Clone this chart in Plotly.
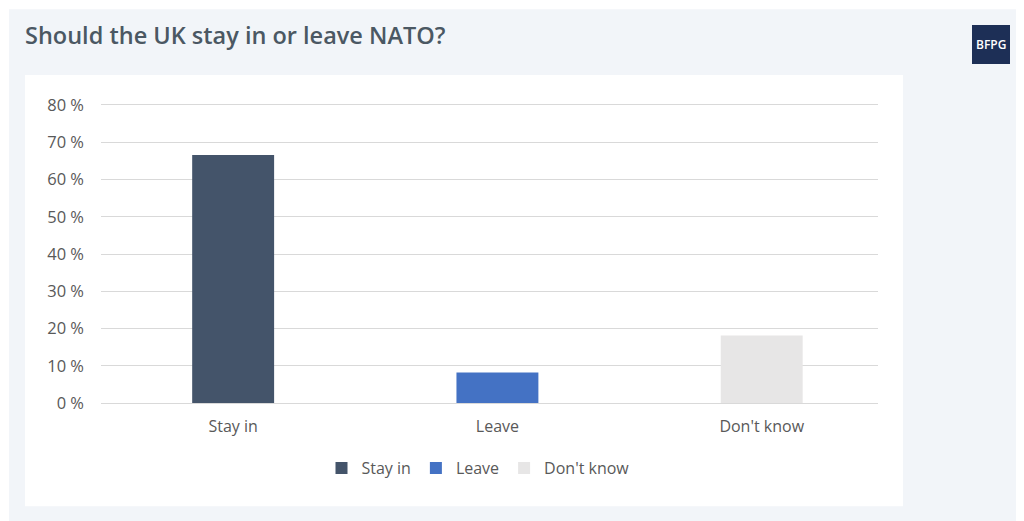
import plotly.graph_objects as go

categories = ["Stay in", "Leave", "Don't know"]
values = [66.6, 8.2, 18.1]
colors = ["#44546a", "#4472c4", "#e7e6e6"]
y_ticks = [0, 10, 20, 30, 40, 50, 60, 70, 80]
y_tick_labels = ["0 %", "10 %", "20 %", "30 %", "40 %", "50 %", "60 %", "70 %", "80 %"]

W, H = 1024, 521
OFF = 8  # page body margin offset
EXT = 0.8
ppu = (403.5 - 105) / 80.0
PL, PR = 101 - OFF, 878 - OFF
PT = 105 - OFF - EXT * ppu
PB = 403.5 - OFF + EXT * ppu

def px(x):
    return (x - OFF - PL) / (PR - PL)

def py(y):
    return (PB - (y - OFF)) / (PB - PT)

fig = go.Figure()
for c, v, col in zip(categories, values, colors):
    fig.add_trace(go.Bar(
        x=[c], y=[v], name=c, width=0.31,
        marker=dict(color=col, line=dict(width=0)),
        hovertemplate="%{x}: %{y} %<extra></extra>",
    ))

fig.update_layout(
    width=W, height=H,
    margin=dict(l=PL, r=W - PR, t=PT, b=H - PB, autoexpand=False),
    paper_bgcolor="white",
    plot_bgcolor="rgba(0,0,0,0)",
    barmode="overlay",
    font=dict(family="Open Sans, sans-serif", color="#595959"),
    showlegend=True,
    legend=dict(
        orientation="h", xref="container", yref="container",
        x=(478 - OFF) / W, y=1 - (468 - OFF) / H, xanchor="center", yanchor="middle",
        font=dict(size=16, color="#595959"), bgcolor="rgba(0,0,0,0)",
        itemwidth=30, traceorder="normal",
    ),
    xaxis=dict(
        type="category", range=[-0.5, 2.44],
        showgrid=False, zeroline=False, showline=False,
        tickfont=dict(size=16, color="#595959"),
        ticklabelstandoff=9, fixedrange=True,
    ),
    yaxis=dict(
        range=[-EXT, 80 + EXT], tickmode="array", tickvals=y_ticks, ticktext=y_tick_labels,
        showgrid=True, gridcolor="#d9d9d9", gridwidth=1.2,
        zeroline=False, showline=False,
        tickfont=dict(size=16.5, color="#595959"),
        ticklabelstandoff=16, fixedrange=True,
    ),
    shapes=[
        dict(type="rect", xref="paper", yref="paper", layer="below",
             x0=px(9), x1=px(1040), y0=py(540), y1=py(9),
             fillcolor="#f2f5f9", line=dict(width=0)),
        dict(type="rect", xref="paper", yref="paper", layer="below",
             x0=px(25), x1=px(903), y0=py(507), y1=py(75),
             fillcolor="white", line=dict(width=0)),
        dict(type="rect", xref="paper", yref="paper", layer="above",
             x0=px(972), x1=px(1010), y0=py(64), y1=py(25),
             fillcolor="#1d2f56", line=dict(width=0)),
    ],
    annotations=[
        dict(text="Should the UK stay in or leave NATO?", xref="paper", yref="paper",
             x=px(23), y=py(35), xanchor="left", yanchor="middle", showarrow=False,
             font=dict(family="Open Sans, sans-serif", size=23.5, color="#4b5863", weight=600)),
        dict(text="BFPG", xref="paper", yref="paper",
             x=px(991), y=py(44.5), xanchor="center", yanchor="middle", showarrow=False,
             font=dict(family="Open Sans, sans-serif", size=12, color="white", weight=600)),
    ],
)

fig.write_html("out.html")
